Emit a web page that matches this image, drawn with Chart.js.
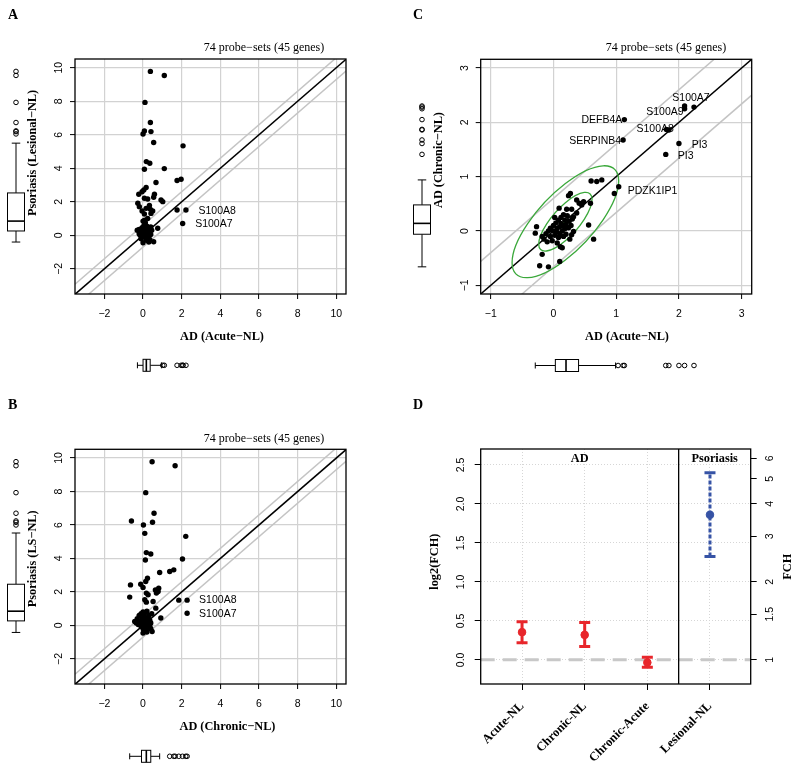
<!DOCTYPE html>
<html>
<head>
<meta charset="utf-8">
<script src="https://cdn.jsdelivr.net/npm/chart.js@4.4.1/dist/chart.umd.min.js"></script>
<style>
  body { margin: 0; background: #fff; width: 800px; height: 772px; position: relative; overflow: hidden; }
  canvas { position: absolute; }
</style>
</head>
<body>
<canvas id="panelA" width="400" height="386" style="left:0;top:0"></canvas>
<canvas id="panelB" width="400" height="386" style="left:0;top:386px"></canvas>
<canvas id="panelC" width="400" height="386" style="left:400px;top:0"></canvas>
<canvas id="panelD" width="400" height="386" style="left:400px;top:386px"></canvas>
<script>
// Panel A: AD acute vs psoriasis lesional (log2 FCH)
const acuteA = [0.38,1.1,0.1,0.38,0.07,0.0,0.41,0.55,2.07,0.17, 0.35,0.07,1.1,0.67,1.76,1.97,0.16,0.04,-0.22,-0.05,
  0.59,0.55,0.07,0.24,-0.27,-0.19,0.93,1.02,0.33,0.16, 0.38,-0.05,0.5,1.76,2.22,0.41,0.07,0.0,0.24,2.05,
  0.76,0.55,0.0, -0.3,-0.2,-0.15,-0.1,-0.05,0.0,0.0,0.05,0.05,0.1, 0.1,0.12,0.15,0.15,0.2,0.2,0.25,0.25,0.3,0.3,
  0.35,0.35,0.4,0.4,-0.1,0.08,0.18,-0.2,0.0,0.3,0.45];
const lesionalA = [9.78,9.54,7.93,6.73,6.23,6.05,6.19,5.54,5.34,4.4, 4.3,3.94,3.98,3.15,3.27,3.35,2.85,2.71,2.45,2.6,
  2.45,2.27,2.21,2.17,1.91,1.71,2.11,2.01,1.78,1.61, 1.55,1.45,1.45,1.51,1.51,1.31,1.27,0.85,1.01,0.71,
  0.42,-0.38,-0.44, 0.3,0.1,0.0,0.2,0.45,0.1,-0.1,0.3,0.6,0.0, 0.2,0.75,0.4,-0.15,0.1,0.55,0.25,-0.05,0.0,0.35,
  0.15,-0.25,0.05,0.5,-0.2,0.9,-0.3,0.35,0.4,-0.4,0.3];
const genesA = ['S100A8', 'S100A7'];
const geneIdxA = [34, 39];

// Panel B: AD chronic vs psoriasis lesional
const chronicB = [0.47,1.66,0.14,0.57,-0.6,0.02,0.49,0.09,2.21,0.17, 0.4,0.12,2.04,0.86,1.38,1.59,0.23,0.14,-0.65,-0.12,
  0.0,0.64,0.81,0.17,0.26,0.78,0.69,-0.69,0.09,0.17, 0.52,1.85,2.28,0.66,2.28,0.92,0.47,0.0,-0.43,
  -0.35,-0.25,-0.2,-0.15,-0.1,-0.1,-0.05,0.0,0.0,0.0, 0.05,0.05,0.1,0.1,0.1,0.15,0.15,0.2,0.2,0.25,
  0.25,0.3,0.3,0.35,0.35,0.4,0.45,-0.3,0.05,0.2, 0.12,-0.05,0.28,0.4,0.2];
const lesionalB = [9.78,9.54,7.93,6.7,6.24,6.0,6.16,5.5,5.32,4.35, 4.27,3.91,3.97,3.16,3.22,3.32,2.82,2.62,2.42,2.46,
  2.27,2.12,2.22,1.93,1.83,2.03,1.93,1.69,1.53,1.39, 1.43,1.51,1.51,1.03,0.73,0.44,-0.36,-0.46,0.24,
  0.15,0.05,0.6,0.25,-0.05,0.7,0.4,0.0,0.8,-0.2, 0.2,0.55,-0.1,0.35,0.75,0.1,-0.25,0.45,0.0,0.25,
  -0.15,0.6,0.1,-0.05,0.3,0.15,0.7,0.4,-0.35,0.85, 0.05,0.1,0.4,-0.2,-0.4];
const genesB = ['S100A8', 'S100A7'];
const geneIdxB = [32, 34];

// Panel C: AD acute vs AD chronic
const acuteC = [2.09,2.09,2.24,1.84,1.13,1.11,2.0,1.79,1.04,0.97, 0.6,0.69,0.77,0.27,0.24,0.37,0.48,0.45,0.41,0.59,
  0.09,0.21,0.29,0.37,0.32,-0.27,-0.29,0.56,0.64,0.32, 0.29,0.11,0.14,-0.18,-0.22,-0.08,0.1,1.8,
  -0.15,-0.12,-0.1,-0.08,-0.05,-0.05,-0.02,0.0,0.0,0.02, 0.04,0.05,0.06,0.08,0.08,0.1,0.1,0.12,0.12,0.14,
  0.15,0.16,0.18,0.18,0.2,0.2,0.22,0.24,0.25,0.26, 0.28,0.3,-0.18,0.02,0.16,0.06];
const chronicC = [2.30,2.25,2.28,1.86,2.05,1.675,1.61,1.41,0.815,0.69, 0.92,0.91,0.94,0.69,0.65,0.57,0.54,0.48,0.51,0.51,
  0.42,0.40,0.40,0.33,0.26,0.08,-0.04,0.11,-0.15,-0.01, -0.07,-0.29,-0.31,-0.43,-0.64,-0.66,-0.56,1.87,
  -0.15,-0.05,-0.2,0.0,-0.1,0.05,-0.18,0.0,0.1,-0.08, 0.15,-0.02,0.05,-0.12,0.2,0.08,-0.05,0.14,0.25,0.0,
  0.1,-0.1,0.2,0.04,0.12,-0.06,0.28,0.06,0.18,-0.15, 0.1,0.22,-0.1,0.25,0.3,-0.22];
const genesC = ['S100A7', 'S100A9', 'DEFB4A', 'S100A8', 'SERPINB4', 'PI3', 'PI3', 'PDZK1IP1'];
const geneIdxC = [2, 1, 4, 3, 5, 6, 7, 8];
// ellipses: centre and two conjugate half-axes (data units)
const ellipseCentreC = [0.19, 0.17];
const ellipseOuterC = [[0.85, 0.753], [0, 0.703]];
const ellipseInnerC = [[0.425, 0.412], [0, 0.35]];

// boxplots [lower whisker, q1, median, q3, upper whisker] + outliers
const boxLesionalA = [-0.4, 0.26, 0.85, 2.53, 5.5];
const outLesionalA = [6.05, 6.19, 6.23, 6.73, 7.93, 9.54, 9.78];
const boxAcuteA = [-0.29, 0.0, 0.17, 0.37, 0.95];
const outAcuteA = [1.02, 1.1, 1.76, 1.97, 2.05, 2.07, 2.22];
const boxLesionalB = [-0.42, 0.27, 0.85, 2.46, 5.52];
const outLesionalB = [6.0, 6.16, 6.24, 6.7, 7.93, 9.54, 9.78];
const boxChronicB = [-0.69, -0.08, 0.17, 0.4, 0.86];
const outChronicB = [1.38, 1.59, 1.66, 1.85, 2.04, 2.21, 2.28];
const boxChronicC = [-0.66, -0.06, 0.14, 0.48, 0.94];
const outChronicC = [1.41, 1.61, 1.675, 1.86, 1.87, 2.05, 2.25, 2.28, 2.3];
const boxAcuteC = [-0.29, 0.03, 0.2, 0.4, 0.99];
const outAcuteC = [1.03, 1.11, 1.13, 1.79, 1.84, 2.0, 2.09, 2.24];

// Panel D: mean log2 FCH with intervals
const contrasts = ['Acute-NL', 'Chronic-NL', 'Chronic-Acute', 'Lesional-NL'];
const meanFch = [0.355, 0.32, -0.035, 1.86];
const lowFch = [0.22, 0.17, -0.095, 1.325];
const highFch = [0.49, 0.478, 0.034, 2.40];
const fchTicks = [1, 1.5, 2, 3, 4, 5, 6];

const SANS = '"Liberation Sans", Arial, sans-serif';
const SERIF = '"Liberation Serif", "Times New Roman", serif';
Chart.defaults.font.family = SANS;
Chart.defaults.color = '#000';

const minus = v => (v < 0 ? '\u2212' + Math.abs(v) : String(v));

function text(ctx, str, x, y, font, align, rot) {
  ctx.save();
  ctx.font = font;
  ctx.fillStyle = '#000';
  ctx.textAlign = align || 'center';
  ctx.textBaseline = 'middle';
  ctx.translate(x, y);
  if (rot) ctx.rotate(rot);
  ctx.fillText(str, 0, 0);
  ctx.restore();
}

function drawBox(ctx, scale, stats, outs, pos, half, vertical) {
  const p = stats.map(v => scale.getPixelForValue(v));
  const seg = (a, b, c, d) => {
    ctx.beginPath();
    if (vertical) { ctx.moveTo(a, b); ctx.lineTo(c, d); } else { ctx.moveTo(b, a); ctx.lineTo(d, c); }
    ctx.stroke();
  };
  ctx.save();
  ctx.strokeStyle = '#000';
  ctx.lineWidth = 1;
  seg(pos, p[0], pos, p[1]);
  seg(pos, p[3], pos, p[4]);
  seg(pos - half / 2, p[0], pos + half / 2, p[0]);
  seg(pos - half / 2, p[4], pos + half / 2, p[4]);
  ctx.fillStyle = '#fff';
  if (vertical) {
    ctx.fillRect(pos - half, p[3], 2 * half, p[1] - p[3]);
    ctx.strokeRect(pos - half, p[3], 2 * half, p[1] - p[3]);
  } else {
    ctx.fillRect(p[1], pos - half, p[3] - p[1], 2 * half);
    ctx.strokeRect(p[1], pos - half, p[3] - p[1], 2 * half);
  }
  ctx.lineWidth = 1.6;
  seg(pos - half, p[2], pos + half, p[2]);
  ctx.lineWidth = 1;
  outs.forEach(v => {
    const q = scale.getPixelForValue(v);
    ctx.beginPath();
    if (vertical) ctx.arc(pos, q, 2.3, 0, Math.PI * 2); else ctx.arc(q, pos, 2.3, 0, Math.PI * 2);
    ctx.stroke();
  });
  ctx.restore();
}

function scatterPanel(p) {
  const canvas = document.getElementById(p.id);
  const W = canvas.width, H = canvas.height, a = p.area;
  const axis = (min, max, step, horizontal) => ({
    type: 'linear', min: min, max: max,
    afterFit: s => { if (horizontal) s.height = H - a.bottom; else s.width = a.left; },
    ticks: {
      stepSize: step, includeBounds: false, autoSkip: false,
      padding: horizontal ? 9 : 5,
      minRotation: horizontal ? 0 : 90, maxRotation: horizontal ? 0 : 90,
      crossAlign: horizontal ? 'near' : 'center',
      font: { family: SANS, size: 10.5 }, color: '#000',
      callback: v => minus(v)
    },
    grid: { color: '#d2d2d2', lineWidth: 1.2, tickColor: '#000', tickWidth: 1, tickLength: 5 },
    border: { display: false }
  });

  const decor = {
    id: 'decor',
    beforeDatasetsDraw(chart) {
      const { ctx, chartArea: ca, scales: { x, y } } = chart;
      ctx.save();
      ctx.beginPath();
      ctx.rect(ca.left, ca.top, ca.right - ca.left, ca.bottom - ca.top);
      ctx.clip();
      p.diagonals.forEach(c => {
        ctx.beginPath();
        ctx.moveTo(x.getPixelForValue(x.min), y.getPixelForValue(x.min + c));
        ctx.lineTo(x.getPixelForValue(x.max), y.getPixelForValue(x.max + c));
        ctx.strokeStyle = c === 0 ? '#000' : '#c4c4c4';
        ctx.lineWidth = 1.5;
        ctx.stroke();
      });
      ctx.restore();
      (p.ellipses || []).forEach(e => {
        const cx = x.getPixelForValue(p.centre[0]), cy = y.getPixelForValue(p.centre[1]);
        const ux = x.getPixelForValue(p.centre[0] + e[0][0]) - cx, uy = y.getPixelForValue(p.centre[1] + e[0][1]) - cy;
        const vx = x.getPixelForValue(p.centre[0] + e[1][0]) - cx, vy = y.getPixelForValue(p.centre[1] + e[1][1]) - cy;
        ctx.save();
        ctx.beginPath();
        ctx.transform(ux, uy, vx, vy, cx, cy);
        ctx.arc(0, 0, 1, 0, Math.PI * 2);
        ctx.restore();
        ctx.save();
        ctx.strokeStyle = '#3aa83a';
        ctx.lineWidth = 1.3;
        ctx.stroke();
        ctx.restore();
      });
    },
    afterDatasetsDraw(chart) {
      const { ctx, scales: { x, y } } = chart;
      p.genes.forEach((g, k) => {
        const i = p.geneIdx[k], o = p.geneOffsets[k];
        const px = x.getPixelForValue(p.xs[i]), py = y.getPixelForValue(p.ys[i]);
        text(ctx, g, px + o[1], py + o[2], '10.5px ' + SANS, o[0]);
      });
    },
    afterDraw(chart) {
      const { ctx, chartArea: ca, scales: { x, y } } = chart;
      ctx.save();
      ctx.strokeStyle = '#000';
      ctx.lineWidth = 1.3;
      ctx.strokeRect(ca.left, ca.top, ca.right - ca.left, ca.bottom - ca.top);
      ctx.restore();
      drawBox(ctx, y, p.yBox, p.yOut, p.yBoxPos, 8.5, true);
      drawBox(ctx, x, p.xBox, p.xOut, p.xBoxPos, 6, false);
      const t = p.texts;
      text(ctx, p.letter, t.letter[0], t.letter[1], 'bold 14px ' + SERIF, 'left');
      text(ctx, '74 probe\u2212sets (45 genes)', t.title[0], t.title[1], '12px ' + SERIF);
      text(ctx, p.xLabel, t.xLabel[0], t.xLabel[1], 'bold 12.3px ' + SERIF);
      text(ctx, p.yLabel, t.yLabel[0], t.yLabel[1], 'bold 12.3px ' + SERIF, 'center', -Math.PI / 2);
    }
  };

  const datasets = [{
    data: p.xs.map((v, i) => ({ x: v, y: p.ys[i] })),
    backgroundColor: '#000', borderWidth: 0, pointRadius: 2.7, pointHoverRadius: 2.7
  }];
  if (p.ellipses) {
    datasets.push({
      data: [{ x: p.centre[0], y: p.centre[1] }],
      backgroundColor: '#3aa83a', borderWidth: 0, pointRadius: 3, pointStyle: 'triangle'
    });
  }

  return new Chart(canvas, {
    type: 'scatter',
    data: { datasets: datasets },
    options: {
      responsive: false, animation: false, events: [],
      layout: { padding: { top: a.top, right: W - a.right, left: 0, bottom: 0 } },
      plugins: { legend: { display: false }, tooltip: { enabled: false } },
      scales: {
        x: axis(p.range[0], p.range[1], p.step, true),
        y: axis(p.range[2], p.range[3], p.step, false)
      }
    },
    plugins: [decor]
  });
}

scatterPanel({
  id: 'panelA', letter: 'A', xLabel: 'AD (Acute\u2212NL)', yLabel: 'Psoriasis (Lesional\u2212NL)',
  xs: acuteA, ys: lesionalA, genes: genesA, geneIdx: geneIdxA,
  geneOffsets: [['left', 12.5, 0.7], ['left', 12.5, 1]],
  area: { left: 75, top: 59, right: 346, bottom: 294 },
  range: [-3.52, 10.5, -3.5, 10.52], step: 2, diagonals: [0, 0.6, -0.7],
  yBox: boxLesionalA, yOut: outLesionalA, yBoxPos: 16,
  xBox: boxAcuteA, xOut: outAcuteA, xBoxPos: 365.3,
  texts: { letter: [8, 15], title: [264, 48], xLabel: [222, 337], yLabel: [33, 153] }
});

scatterPanel({
  id: 'panelB', letter: 'B', xLabel: 'AD (Chronic\u2212NL)', yLabel: 'Psoriasis (LS\u2212NL)',
  xs: chronicB, ys: lesionalB, genes: genesB, geneIdx: geneIdxB,
  geneOffsets: [['left', 12, 0], ['left', 12, 1]],
  area: { left: 75, top: 63.3, right: 346, bottom: 298 },
  range: [-3.52, 10.5, -3.5, 10.52], step: 2, diagonals: [0, 0.6, -0.7],
  yBox: boxLesionalB, yOut: outLesionalB, yBoxPos: 16,
  xBox: boxChronicB, xOut: outChronicB, xBoxPos: 370.3,
  texts: { letter: [8, 19], title: [264, 52.7], xLabel: [227.5, 340.7], yLabel: [33, 172.8] }
});

scatterPanel({
  id: 'panelC', letter: 'C', xLabel: 'AD (Acute\u2212NL)', yLabel: 'AD (Chronic\u2212NL)',
  xs: acuteC, ys: chronicC, genes: genesC, geneIdx: geneIdxC,
  geneOffsets: [['center', -3, -9.4], ['right', -1, 3.5], ['right', -2, 0.5], ['right', 5, -0.5],
    ['right', -2, 0.7], ['left', 12.7, 1.5], ['left', 12, 1.6], ['left', 9, 4]],
  area: { left: 80.7, top: 59.3, right: 351.7, bottom: 294 },
  range: [-1.16, 3.16, -1.16, 3.16], step: 1, diagonals: [0, 0.6, -0.66],
  centre: ellipseCentreC, ellipses: [ellipseOuterC, ellipseInnerC],
  yBox: boxChronicC, yOut: outChronicC, yBoxPos: 22,
  xBox: boxAcuteC, xOut: outAcuteC, xBoxPos: 365.5,
  texts: { letter: [13, 15], title: [266, 48], xLabel: [227, 337], yLabel: [39.3, 160] }
});

// Panel D
(function () {
  const canvas = document.getElementById('panelD');
  const W = canvas.width, H = canvas.height;
  const area = { left: 80.7, top: 63, right: 350.7, bottom: 298 };
  const colours = ['#e8262b', '#e8262b', '#e8262b', '#3653a5'];
  const yMin = -0.31, yMax = 2.705;

  const bars = contrasts.map((c, i) => ({
    type: 'line', showLine: true,
    data: [{ x: i + 1, y: lowFch[i] }, { x: i + 1, y: highFch[i] }],
    borderColor: colours[i], borderWidth: 3, borderDash: i === 3 ? [4, 2] : [],
    pointStyle: 'line', pointRadius: 5.5, pointHoverRadius: 5.5,
    pointBorderColor: colours[i], pointBorderWidth: 3
  }));
  const means = {
    data: meanFch.map((v, i) => ({ x: i + 1, y: v })),
    pointBackgroundColor: colours, pointBorderColor: colours, pointBorderWidth: 1,
    pointRadius: 3.8, pointHoverRadius: 3.8
  };

  const decor = {
    id: 'decorD',
    beforeDatasetsDraw(chart) {
      const { ctx, chartArea: ca, scales: { y } } = chart;
      ctx.save();
      ctx.strokeStyle = '#c8c8c8';
      ctx.lineWidth = 3;
      ctx.setLineDash([14, 8]);
      ctx.beginPath();
      ctx.moveTo(ca.left, y.getPixelForValue(0));
      ctx.lineTo(ca.right, y.getPixelForValue(0));
      ctx.stroke();
      ctx.restore();
    },
    afterDraw(chart) {
      const { ctx, chartArea: ca, scales: { x } } = chart;
      const sep = x.getPixelForValue(3.5);
      ctx.save();
      ctx.strokeStyle = '#000';
      ctx.lineWidth = 1.3;
      ctx.beginPath();
      ctx.moveTo(sep, ca.top);
      ctx.lineTo(sep, ca.bottom);
      ctx.stroke();
      ctx.strokeRect(ca.left, ca.top, ca.right - ca.left, ca.bottom - ca.top);
      ctx.restore();
      text(ctx, 'AD', (ca.left + sep) / 2, ca.top + 10, 'bold 12.3px ' + SERIF);
      text(ctx, 'Psoriasis', (sep + ca.right) / 2, ca.top + 10, 'bold 12.3px ' + SERIF);
      text(ctx, 'D', 13, 19, 'bold 14px ' + SERIF, 'left');
      text(ctx, 'log2(FCH)', 35, 175.7, 'bold 12.3px ' + SERIF, 'center', -Math.PI / 2);
      text(ctx, 'FCH', 388, 180.7, 'bold 12.3px ' + SERIF, 'center', -Math.PI / 2);
    }
  };

  new Chart(canvas, {
    type: 'scatter',
    data: { datasets: [...bars, means] },
    options: {
      responsive: false, animation: false, events: [],
      layout: { padding: { top: area.top, right: 0, left: 0, bottom: 0 } },
      plugins: { legend: { display: false }, tooltip: { enabled: false } },
      scales: {
        x: {
          type: 'linear', min: 0.34, max: 4.65,
          afterFit: s => { s.height = H - area.bottom; },
          afterBuildTicks: s => { s.ticks = contrasts.map((c, i) => ({ value: i + 1 })); },
          ticks: {
            autoSkip: false, minRotation: 45, maxRotation: 45, padding: 9,
            font: { family: SERIF, size: 12.5, weight: 'bold' }, color: '#000',
            callback: (v, i) => contrasts[i]
          },
          grid: { color: '#d6d6d6', tickColor: '#000', tickLength: 6, tickBorderDash: [] },
          border: { display: false, dash: [1, 2] }
        },
        y: {
          type: 'linear', min: yMin, max: yMax,
          afterFit: s => { s.width = area.left; },
          ticks: {
            stepSize: 0.5, includeBounds: false, padding: 6,
            minRotation: 90, maxRotation: 90, crossAlign: 'center',
            font: { family: SANS, size: 10.5 }, color: '#000',
            callback: v => v.toFixed(1)
          },
          grid: { color: '#d6d6d6', tickColor: '#000', tickLength: 6, tickBorderDash: [] },
          border: { display: false, dash: [1, 2] }
        },
        y2: {
          type: 'linear', position: 'right', min: yMin, max: yMax,
          afterFit: s => { s.width = W - area.right; },
          afterBuildTicks: s => { s.ticks = fchTicks.map(v => ({ value: Math.log2(v) })); },
          ticks: {
            padding: 6, minRotation: 90, maxRotation: 90, crossAlign: 'center',
            font: { family: SANS, size: 10.5 }, color: '#000',
            callback: (v, i) => String(fchTicks[i])
          },
          grid: { drawOnChartArea: false, tickColor: '#000', tickLength: 6 },
          border: { display: false }
        }
      }
    },
    plugins: [decor]
  });
})();
</script>
</body>
</html>
